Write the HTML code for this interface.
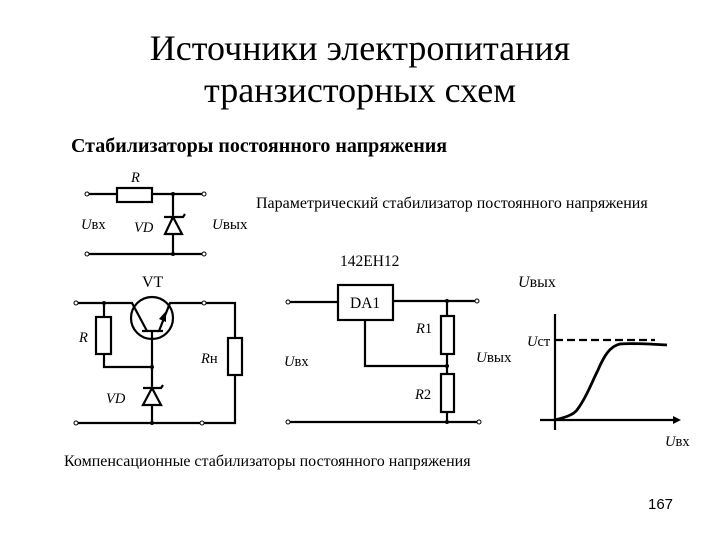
<!DOCTYPE html>
<html><head><meta charset="utf-8"><style>
html,body{margin:0;padding:0;background:#fff}
svg{display:block}
text{font-family:"Liberation Serif",serif;fill:#000}
.i{font-style:italic}
</style></head><body>
<svg width="720" height="540" viewBox="0 0 720 540" xmlns="http://www.w3.org/2000/svg">
<text x="360" y="60" text-anchor="middle" font-size="36">Источники электропитания</text>
<text x="360" y="102" text-anchor="middle" font-size="36">транзисторных схем</text>
<text x="71" y="152" font-size="20" font-weight="bold">Стабилизаторы постоянного напряжения</text>
<text x="256" y="208" font-size="16">Параметрический стабилизатор постоянного напряжения</text>
<text x="64" y="466" font-size="16">Компенсационные стабилизаторы постоянного напряжения</text>
<text x="648" y="509" font-size="15" style="font-family:'Liberation Sans',sans-serif">167</text>

<g fill="none" stroke="#000" stroke-width="2.2">
<!-- circuit 1 -->
<path d="M87 194H117M152 194H204M173 194V254M87 254H204"/>
<rect x="117" y="188" width="35" height="14" fill="#fff"/>
<path d="M173 217L165 234H182Z M164 217H183L185 214" fill="#fff"/>
<!-- circuit 2 -->
<path d="M76 303H132L147 331M142 331H163M159 331L170 303H235V338M235 375V423H76M104 303V317M104 354V367H152M152 331V423"/>
<circle cx="152" cy="318" r="21"/>
<rect x="96" y="317" width="15" height="37" fill="#fff"/>
<rect x="228" y="338" width="14" height="37" fill="#fff"/>
<path d="M152 388L143 405H161Z M143 388H161L163 385" fill="#fff"/>
<!-- circuit 3 -->
<path d="M288 302H338M393 301H477M447 301V316M447 354V374M447 412V422M365 320V366H447M288 422H479"/>
<rect x="338" y="285" width="55" height="35" fill="#fff"/>
<rect x="441" y="316" width="13" height="38" fill="#fff"/>
<rect x="441" y="374" width="13" height="38" fill="#fff"/>
<!-- graph -->
<path d="M555 314V430M540 420H676"/>
<path d="M555 340H655" stroke-dasharray="8 4"/>
<path d="M555 420C566 417 573 415 577 410C586 398 592 382 598 370C604 356 610 346 620 344C630 343 650 344 667 345" stroke-width="2.8"/>
</g>
<path d="M681 420L673 416V424Z"/>
<path d="M166 311L159 319L166 322Z"/>

<g fill="#fff" stroke="#000" stroke-width="1">
<circle cx="87" cy="194" r="2"/><circle cx="204" cy="194" r="2"/><circle cx="87" cy="254" r="2"/><circle cx="204" cy="254" r="2"/>
<circle cx="76" cy="303" r="2"/><circle cx="204" cy="303" r="2"/><circle cx="76" cy="423" r="2"/><circle cx="202" cy="423" r="2"/>
<circle cx="288" cy="302" r="2"/><circle cx="477" cy="301" r="2"/><circle cx="288" cy="422" r="2"/><circle cx="479" cy="422" r="2"/>
</g>
<g fill="#000">
<circle cx="173" cy="194" r="2"/><circle cx="173" cy="254" r="2"/>
<circle cx="104" cy="303" r="2"/><circle cx="152" cy="367" r="2"/><circle cx="152" cy="423" r="2"/>
<circle cx="447" cy="301" r="2"/><circle cx="447" cy="366" r="2"/><circle cx="447" cy="422" r="2"/>
</g>

<g font-size="14.5">
<text x="131" y="182" class="i">R</text>
<text x="81" y="229"><tspan class="i">U</tspan>вх</text>
<text x="134" y="232" class="i">VD</text>
<text x="212" y="229" font-size="15"><tspan class="i">U</tspan>вых</text>
<text x="142" y="287" font-size="16">VT</text>
<text x="79" y="342" class="i">R</text>
<text x="201" y="363"><tspan class="i">R</tspan>н</text>
<text x="106" y="403" class="i">VD</text>
<text x="340" y="266" font-size="15.5">142ЕН12</text>
<text x="350" y="308" font-size="15.5">DA1</text>
<text x="518" y="287" font-size="16"><tspan class="i">U</tspan>вых</text>
<text x="416" y="333"><tspan class="i">R</tspan>1</text>
<text x="415" y="399"><tspan class="i">R</tspan>2</text>
<text x="284" y="366"><tspan class="i">U</tspan>вх</text>
<text x="476" y="362" font-size="15"><tspan class="i">U</tspan>вых</text>
<text x="527" y="346"><tspan class="i">U</tspan>ст</text>
<text x="665" y="446"><tspan class="i">U</tspan>вх</text>
</g>
</svg>
</body></html>
